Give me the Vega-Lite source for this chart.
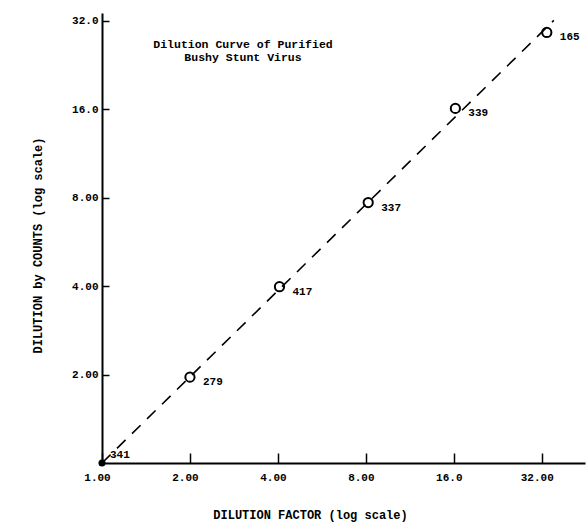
{
  "$schema": "https://vega.github.io/schema/vega-lite/v6.json",
  "autosize": {"type": "none"},
  "padding": {"left": 102, "top": 13, "right": 2, "bottom": 60},
  "width": 483,
  "height": 450,
  "background": "white",
  "config": {
    "view": {"stroke": null},
    "font": "Liberation Mono",
    "axis": {
      "grid": false,
      "domainColor": "black",
      "domainWidth": 2,
      "tickColor": "black",
      "tickWidth": 1.5,
      "labelFont": "Liberation Mono",
      "labelFontWeight": "bold",
      "labelFontSize": 11,
      "labelColor": "black",
      "titleFont": "Liberation Mono",
      "titleFontWeight": "bold",
      "titleFontSize": 12,
      "titleColor": "black"
    }
  },
  "title": {
    "text": ["Dilution Curve of Purified", "Bushy Stunt Virus"],
    "font": "Liberation Mono",
    "fontWeight": "bold",
    "fontSize": 11.5,
    "lineHeight": 13,
    "color": "black",
    "anchor": "start",
    "align": "center",
    "frame": "group",
    "dx": 141,
    "offset": -50
  },
  "datasets": {
    "pts": [
      {"factor": 1, "counts": 1, "label": "341", "kind": "origin"},
      {"factor": 2.0, "counts": 1.96, "label": "279", "kind": "obs"},
      {"factor": 4.05, "counts": 3.98, "label": "417", "kind": "obs"},
      {"factor": 8.15, "counts": 7.7, "label": "337", "kind": "obs"},
      {"factor": 16.2, "counts": 16.1, "label": "339", "kind": "obs"},
      {"factor": 33.3, "counts": 29.2, "label": "165", "kind": "obs"}
    ],
    "fit": [
      {"factor": 1, "counts": 1},
      {"factor": 35.2, "counts": 32.1}
    ]
  },
  "encoding": {
    "x": {
      "field": "factor",
      "type": "quantitative",
      "scale": {"type": "log", "base": 2, "domain": [1, 45], "nice": false, "zero": false},
      "axis": {
        "values": [1, 2, 4, 8, 16, 32],
        "labelExpr": "{'1':'1.00','2':'2.00','4':'4.00','8':'8.00','16':'16.0','32':'32.00'}[datum.value]",
        "labelFlush": false,
        "labelOffset": -5,
        "tickSize": -10,
        "labelPadding": 18,
        "title": "DILUTION FACTOR (log scale)",
        "titleX": 208,
        "titleY": 51,
        "titleBaseline": "middle"
      }
    },
    "y": {
      "field": "counts",
      "type": "quantitative",
      "scale": {"type": "log", "base": 2, "domain": [1, 34], "nice": false, "zero": false},
      "axis": {
        "values": [2, 4, 8, 16, 32],
        "labelExpr": "{'2':'2.00','4':'4.00','8':'8.00','16':'16.0','32':'32.0'}[datum.value]",
        "tickSize": -7,
        "labelPadding": 11,
        "title": "DILUTION by COUNTS (log scale)",
        "titleX": -65,
        "titleY": 232,
        "titleBaseline": "middle"
      }
    }
  },
  "layer": [
    {
      "data": {"name": "fit"},
      "mark": {"type": "line", "color": "black", "strokeWidth": 1.6, "strokeDash": [12, 9]},
      "encoding": {}
    },
    {
      "data": {"name": "pts"},
      "transform": [{"filter": "datum.kind == 'obs'"}],
      "mark": {"type": "point", "shape": "circle", "filled": false, "color": "black", "strokeWidth": 2, "size": 85, "opacity": 1},
      "encoding": {}
    },
    {
      "data": {"name": "pts"},
      "transform": [{"filter": "datum.kind == 'origin'"}],
      "mark": {"type": "point", "shape": "circle", "filled": true, "color": "black", "size": 50, "opacity": 1},
      "encoding": {}
    },
    {
      "data": {"name": "pts"},
      "transform": [{"filter": "datum.kind == 'obs'"}],
      "mark": {"type": "text", "align": "left", "baseline": "middle", "dx": 13, "dy": 5, "font": "Liberation Mono", "fontWeight": "bold", "fontSize": 11, "color": "black"},
      "encoding": {"text": {"field": "label"}}
    },
    {
      "data": {"name": "pts"},
      "transform": [{"filter": "datum.kind == 'origin'"}],
      "mark": {"type": "text", "align": "left", "baseline": "middle", "dx": 8, "dy": -8, "font": "Liberation Mono", "fontWeight": "bold", "fontSize": 11, "color": "black"},
      "encoding": {"text": {"field": "label"}}
    }
  ]
}
